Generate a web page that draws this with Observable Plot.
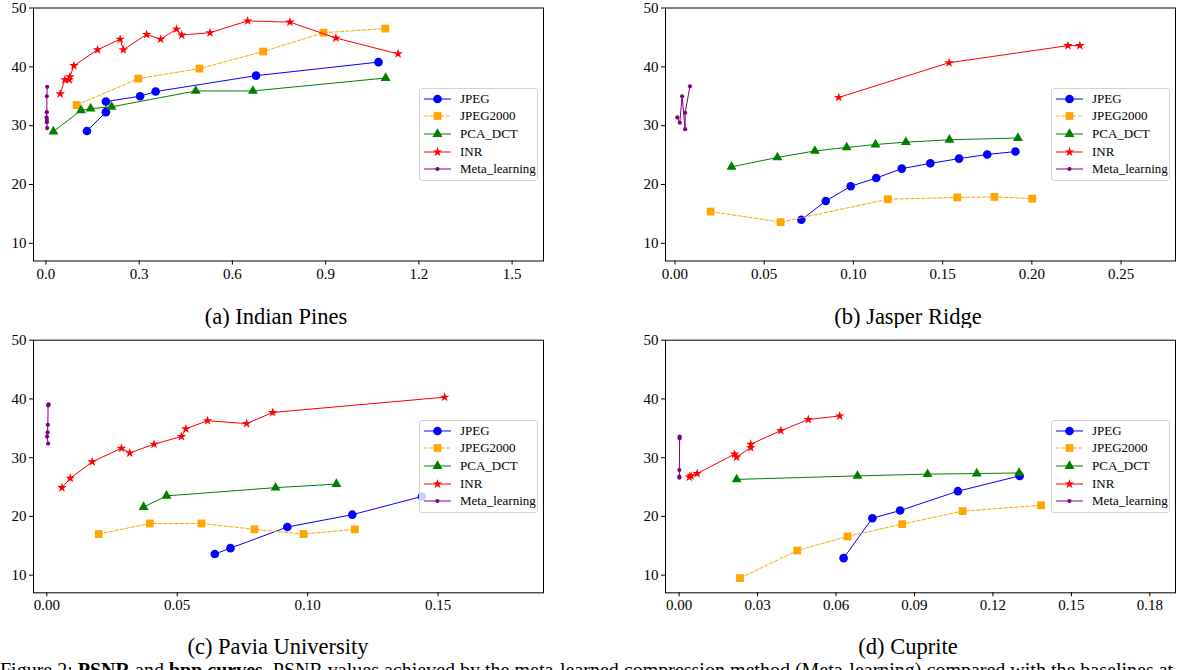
<!DOCTYPE html>
<html><head><meta charset="utf-8">
<script src="https://cdn.jsdelivr.net/npm/d3@7"></script>
<script src="https://cdn.jsdelivr.net/npm/@observablehq/plot@0.6"></script>
<style>
body{margin:0;background:#fff;font-family:"Liberation Serif",serif;}
#fig{position:relative;width:1178px;height:670px;overflow:hidden;background:#fff;font-family:"Liberation Serif",serif;}
#fig svg, #fig svg text{font-family:"Liberation Serif",serif !important;}
.row{position:absolute;left:0;width:1178px;overflow:hidden;}
.panel{position:absolute;}
.title{position:absolute;font-size:22.5px;white-space:nowrap;transform:translateX(-50%);line-height:1;font-family:"Liberation Serif",serif;}
.legend{position:absolute;background:rgba(255,255,255,0.8);border:1px solid #d2d2d2;border-radius:3px;box-sizing:border-box;width:119px;height:93px;}
.legend .item{position:absolute;left:0;height:16px;width:118px;}
.legend svg{position:absolute;left:3px;top:0;}
.legend span{position:absolute;left:40px;top:0;font-size:13px;line-height:16px;white-space:nowrap;font-family:"Liberation Serif",serif;}
.caption{position:absolute;left:0;font-size:20px;white-space:nowrap;line-height:1;font-family:"Liberation Serif",serif;}
</style></head>
<body><div id="fig"></div>
<script>
// ---------- data (x = bpp, y = PSNR) ----------
const methods = ["JPEG","JPEG2000","PCA_DCT","INR","Meta_learning"];
const panelTitles = ["(a) Indian Pines","(b) Jasper Ridge","(c) Pavia University","(d) Cuprite"];

const indianJPEG = [[0.132,29.1],[0.193,32.3],[0.193,34.1],[0.303,35.0],[0.353,35.8],[0.676,38.5],[1.070,40.8]];
const indianJPEG2000 = [[0.099,33.5],[0.297,38.0],[0.494,39.7],[0.699,42.6],[0.893,45.8],[1.092,46.5]];
const indianPCA = [[0.024,29.0],[0.113,32.6],[0.144,32.9],[0.211,33.2],[0.482,35.9],[0.666,35.9],[1.093,38.1]];
const indianINR = [[0.046,35.4],[0.061,37.8],[0.075,37.8],[0.077,38.3],[0.090,40.2],[0.166,42.9],[0.239,44.7],[0.249,42.9],[0.324,45.5],[0.369,44.7],[0.420,46.4],[0.437,45.4],[0.528,45.8],[0.649,47.8],[0.785,47.6],[0.933,44.9],[1.133,42.2]];
const indianMeta = [[0.004,36.6],[0.003,35.0],[0.003,32.3],[0.002,31.4],[0.003,31.0],[0.003,30.6],[0.004,29.6]];

const jasperJPEG = [[0.0708,14.0],[0.0845,17.2],[0.0985,19.7],[0.1128,21.1],[0.1271,22.7],[0.1431,23.6],[0.1592,24.4],[0.1750,25.1],[0.1908,25.6]];
const jasperJPEG2000 = [[0.0200,15.4],[0.0592,13.6],[0.1193,17.5],[0.1582,17.8],[0.1790,17.9],[0.2002,17.6]];
const jasperPCA = [[0.0317,23.0],[0.0574,24.6],[0.0784,25.7],[0.0962,26.3],[0.1124,26.8],[0.1294,27.2],[0.1538,27.6],[0.1922,27.9]];
const jasperINR = [[0.0918,34.8],[0.1536,40.7],[0.2202,43.6],[0.2269,43.6]];
const jasperMeta = [[0.0013,31.4],[0.0027,30.5],[0.0040,35.0],[0.0057,29.4],[0.0057,32.2],[0.0084,36.7]];

const paviaJPEG = [[0.0644,13.6],[0.0704,14.6],[0.0922,18.2],[0.1171,20.3],[0.1438,23.4]];
const paviaJPEG2000 = [[0.0199,17.0],[0.0395,18.8],[0.0593,18.8],[0.0796,17.8],[0.0984,17.0],[0.1181,17.8]];
const paviaPCA = [[0.0371,21.6],[0.0459,23.5],[0.0877,24.9],[0.1110,25.5]];
const paviaINR = [[0.0058,24.9],[0.0090,26.5],[0.0174,29.3],[0.0286,31.6],[0.0318,30.8],[0.0411,32.3],[0.0516,33.6],[0.0533,34.9],[0.0616,36.3],[0.0766,35.8],[0.0866,37.7],[0.1525,40.3]];
const paviaMeta = [[0.0007,39.1],[0.0005,38.9],[0.0004,35.6],[0.0003,34.3],[0.0001,33.6],[0.0005,32.4]];

const cupriteJPEG = [[0.0629,12.9],[0.0739,19.7],[0.0845,21.0],[0.1066,24.3],[0.1302,26.9]];
const cupriteJPEG2000 = [[0.0233,9.5],[0.0452,14.2],[0.0644,16.6],[0.0853,18.7],[0.1084,20.9],[0.1384,21.9]];
const cupritePCA = [[0.0220,26.3],[0.0682,26.9],[0.0950,27.2],[0.1138,27.3],[0.1300,27.4]];
const cupriteINR = [[0.0039,26.7],[0.0046,26.9],[0.0069,27.3],[0.0212,30.6],[0.0220,30.1],[0.0274,31.7],[0.0274,32.3],[0.0389,34.6],[0.0494,36.5],[0.0614,37.1]];
const cupriteMeta = [[0.0002,33.6],[0.0002,33.3],[0.0001,27.9],[0.0001,26.8],[0.0001,26.6]];

const yTicks = [10,20,30,40,50];
const xTicksIndian = [0.0,0.3,0.6,0.9,1.2,1.5];
const xTicksJasper = [0.00,0.05,0.10,0.15,0.20,0.25];
const xTicksPavia = [0.00,0.05,0.10,0.15];
const xTicksCuprite = [0.00,0.03,0.06,0.09,0.12,0.15,0.18];

// ---------- styles ----------
const styleOf = {
  JPEG:{color:"#0000ff", symbol:"circle", r:4.3, dash:null},
  JPEG2000:{color:"#ffa500", symbol:"square", r:4.4, dash:"3.5,2"},
  PCA_DCT:{color:"#008000", symbol:"triangle", r:3.7, dash:null},
  INR:{color:"#ff0000", symbol:"star", r:3.0, dash:null},
  Meta_learning:{color:"#800080", symbol:"circle", r:2.1, dash:null}
};

const panels = [
  {series:[indianJPEG,indianJPEG2000,indianPCA,indianINR,indianMeta], xDomain:[-0.040,1.601], xTicks:xTicksIndian, fmt:d3.format(".1f"),
   left:0, top:0, ml:33, mr:46, mt:7.5, mb:39.5, titleX:276, legend:[419,88]},
  {series:[jasperJPEG,jasperJPEG2000,jasperPCA,jasperINR,jasperMeta], xDomain:[-0.0053,0.2805], xTicks:xTicksJasper, fmt:d3.format(".2f"),
   left:589, top:0, ml:76, mr:3, mt:7.5, mb:39.5, titleX:908, legend:[1051,88]},
  {series:[paviaJPEG,paviaJPEG2000,paviaPCA,paviaINR,paviaMeta], xDomain:[-0.0051,0.1904], xTicks:xTicksPavia, fmt:d3.format(".2f"),
   left:0, top:330, ml:33, mr:46, mt:9.7, mb:37.7, titleX:278, legend:[419,420]},
  {series:[cupriteJPEG,cupriteJPEG2000,cupritePCA,cupriteINR,cupriteMeta], xDomain:[-0.0052,0.1898], xTicks:xTicksCuprite, fmt:d3.format(".2f"),
   left:589, top:330, ml:76, mr:3, mt:9.7, mb:37.7, titleX:908, legend:[1051,420]}
];

const fig = document.getElementById("fig");
const rowTop = document.createElement("div"); rowTop.className="row"; rowTop.style.top="0px"; rowTop.style.height="328px";
const rowBot = document.createElement("div"); rowBot.className="row"; rowBot.style.top="328px"; rowBot.style.height="342px";
fig.appendChild(rowTop); fig.appendChild(rowBot);

function symPath(name, r){
  const map={circle:d3.symbolCircle,square:d3.symbolSquare,triangle:d3.symbolTriangle,star:d3.symbolStar};
  return d3.symbol(map[name], Math.PI*r*r)();
}

panels.forEach((p,i)=>{
  const marks = [];
  p.series.forEach((data,k)=>{
    const s = styleOf[methods[k]];
    marks.push(Plot.line(data,{x:d=>d[0], y:d=>d[1], stroke:s.color, strokeWidth:1, strokeDasharray:s.dash||undefined}));
    marks.push(Plot.dot(data,{x:d=>d[0], y:d=>d[1], fill:s.color, stroke:"none", symbol:s.symbol, r:s.r}));
  });
  const chart = Plot.plot({
    width:589, height:300,
    marginLeft:p.ml, marginRight:p.mr, marginTop:p.mt, marginBottom:p.mb,
    style:{fontFamily:"'Liberation Serif', serif", fontSize:"15px", color:"#000", background:"transparent", overflow:"visible"},
    x:{domain:p.xDomain, ticks:p.xTicks, tickFormat:p.fmt, label:null, tickSize:4, tickPadding:3},
    y:{domain:[7,50], ticks:yTicks, label:null, tickSize:4, tickPadding:3},
    marks:[...marks, Plot.frame({stroke:"#000", strokeWidth:1})]
  });
  chart.querySelectorAll("text").forEach(t=>{t.style.fontFamily="'Liberation Serif', serif"; t.style.fontSize="15px";});
  const row = p.top===0 ? rowTop : rowBot;
  const offset = p.top===0 ? 0 : 328;
  const wrap = document.createElement("div"); wrap.className="panel";
  wrap.style.left=p.left+"px"; wrap.style.top=(p.top-offset)+"px";
  wrap.appendChild(chart); row.appendChild(wrap);

  // legend
  const lg = document.createElement("div"); lg.className="legend";
  lg.style.left=p.legend[0]+"px"; lg.style.top=(p.legend[1]-offset)+"px";
  methods.forEach((m,k)=>{
    const s = styleOf[m];
    const it = document.createElement("div"); it.className="item"; it.style.top=(1.6+k*17.7)+"px";
    const sv = d3.create("svg").attr("width",30).attr("height",16);
    sv.append("line").attr("x1",1).attr("x2",28).attr("y1",8).attr("y2",8).attr("stroke",s.color).attr("stroke-width",1)
      .attr("stroke-dasharray",s.dash);
    sv.append("path").attr("d",symPath(s.symbol,s.r)).attr("transform","translate(14.5,8)").attr("fill",s.color);
    it.appendChild(sv.node());
    const sp = document.createElement("span"); sp.textContent=m; it.appendChild(sp);
    lg.appendChild(it);
  });
  row.appendChild(lg);

  // title
  const t = document.createElement("div"); t.className="title"; t.textContent=panelTitles[i];
  t.style.left=p.titleX+"px"; t.style.top=(p.top===0 ? 306 : 636-offset)+"px";
  row.appendChild(t);
});

const cap = document.createElement("div"); cap.className="caption";
cap.innerHTML = "Figure 2: <b>PSNR</b> and <b>bpp</b> <b>curves</b>. PSNR values achieved by the meta-learned compression method (Meta-learning) compared with the baselines at the";
cap.style.top = (660-328)+"px";
rowBot.appendChild(cap);
</script></body></html>
